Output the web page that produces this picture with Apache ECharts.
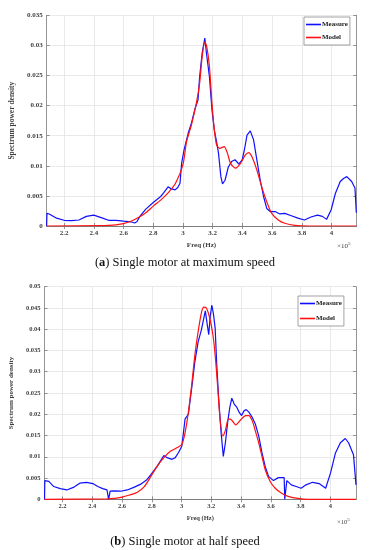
<!DOCTYPE html>
<html>
<head>
<meta charset="utf-8">
<script src="https://cdn.jsdelivr.net/npm/echarts@6/dist/echarts.min.js"></script>
<style>
html,body{margin:0;padding:0;background:#fff;}
#chart{width:370px;height:550px;}
</style>
</head>
<body>
<div id="chart"></div>
<script>
// ---------- Data (frequency in units of 1e5 Hz) ----------
const xTicksA = [2.2, 2.4, 2.6, 2.8, 3, 3.2, 3.4, 3.6, 3.8, 4];
const xTicksB = [2.2, 2.4, 2.6, 2.8, 3, 3.2, 3.4, 3.6, 3.8, 4];

// (a) Single motor at maximum speed
const freqMeasureA = [2.083,2.085,2.1,2.15,2.2,2.25,2.3,2.35,2.4,2.45,2.5,2.55,2.6,2.65,2.675,2.69,2.71,2.75,2.8,2.85,2.87,2.9,2.92,2.947,2.965,2.98,2.991,3.007,3.02,3.035,3.057,3.079,3.101,3.112,3.129,3.147,3.158,3.165,3.178,3.195,3.211,3.226,3.239,3.255,3.266,3.283,3.305,3.327,3.35,3.376,3.398,3.412,3.431,3.453,3.475,3.497,3.52,3.542,3.564,3.586,3.619,3.652,3.685,3.729,3.773,3.817,3.861,3.905,3.938,3.966,3.997,4.025,4.058,4.08,4.102,4.135,4.157,4.166];
const measureA = [0,0.0021,0.002,0.0013,0.00095,0.0009,0.001,0.0016,0.0018,0.0014,0.00095,0.00095,0.0008,0.0007,0.0005,0.0007,0.0016,0.0028,0.0039,0.0049,0.0055,0.0065,0.0062,0.006,0.0064,0.0071,0.0104,0.0126,0.0123,0.0154,0.0171,0.0193,0.0209,0.0248,0.0287,0.0312,0.0287,0.029,0.0248,0.0193,0.0159,0.014,0.0121,0.0082,0.007,0.0076,0.0098,0.0107,0.011,0.0103,0.011,0.0125,0.0151,0.0158,0.0143,0.011,0.0076,0.0049,0.0029,0.0024,0.0024,0.002,0.0021,0.0017,0.0013,0.001,0.0015,0.0018,0.0016,0.0011,0.0027,0.0054,0.0074,0.0079,0.0082,0.0074,0.0063,0.0022];

const freqModelA = [2.083,2.45,2.5,2.55,2.6,2.65,2.7,2.75,2.8,2.85,2.9,2.95,3.0,3.024,3.057,3.09,3.112,3.129,3.147,3.16,3.178,3.195,3.211,3.226,3.248,3.277,3.299,3.32,3.354,3.387,3.42,3.442,3.464,3.497,3.53,3.564,3.597,3.641,3.685,3.751,3.85,4.166];
const modelA = [0,0.00005,0.0001,0.0002,0.0004,0.0008,0.0014,0.0022,0.0033,0.0043,0.0055,0.0071,0.0102,0.014,0.0168,0.0204,0.0237,0.0281,0.0306,0.0298,0.0265,0.0204,0.016,0.0135,0.0129,0.0132,0.0121,0.0104,0.0096,0.0104,0.0118,0.0122,0.0115,0.0093,0.0065,0.004,0.0021,0.001,0.00045,0.0001,0,0];

// (b) Single motor at half speed
const freqMeasureB = [2.079,2.081,2.108,2.141,2.185,2.229,2.273,2.316,2.361,2.404,2.437,2.47,2.499,2.508,2.51,2.518,2.52,2.547,2.591,2.635,2.679,2.723,2.767,2.794,2.837,2.881,2.903,2.936,2.958,2.98,3.002,3.024,3.046,3.068,3.09,3.112,3.134,3.145,3.16,3.173,3.183,3.193,3.204,3.215,3.226,3.237,3.25,3.266,3.281,3.295,3.31,3.325,3.338,3.354,3.371,3.387,3.404,3.42,3.435,3.453,3.475,3.496,3.519,3.541,3.562,3.585,3.618,3.651,3.69,3.694,3.705,3.708,3.738,3.771,3.804,3.837,3.881,3.925,3.969,4.002,4.035,4.068,4.101,4.123,4.156,4.167,4.173];
const measureB = [0,0.0044,0.0042,0.003,0.0025,0.0022,0.0028,0.0038,0.004,0.0037,0.003,0.0025,0.0022,0.0021,0,0,0.0019,0.002,0.0019,0.0022,0.0028,0.0035,0.0046,0.0058,0.0078,0.0103,0.0098,0.0094,0.0098,0.011,0.0125,0.0189,0.02,0.026,0.0324,0.0371,0.0399,0.0395,0.0443,0.0411,0.0387,0.0431,0.0457,0.0435,0.0403,0.0316,0.0236,0.0157,0.0101,0.0133,0.0181,0.0217,0.0238,0.0224,0.0217,0.0205,0.0197,0.0208,0.0211,0.0205,0.0193,0.0177,0.0149,0.0109,0.0078,0.0054,0.0044,0.0051,0.0051,0,0,0.0044,0.0034,0.003,0.0026,0.0034,0.004,0.0037,0.0026,0.0062,0.0109,0.0133,0.0143,0.0133,0.0105,0.0101,0.0034];

const freqModelB = [2.079,2.5,2.55,2.6,2.65,2.7,2.75,2.794,2.837,2.881,2.925,2.969,3.002,3.024,3.046,3.068,3.09,3.112,3.134,3.149,3.167,3.189,3.211,3.228,3.244,3.259,3.277,3.294,3.316,3.338,3.365,3.398,3.431,3.453,3.475,3.496,3.519,3.541,3.562,3.596,3.63,3.673,3.717,3.782,3.85,4.173];
const modelB = [0,0.0001,0.0002,0.0005,0.001,0.0016,0.003,0.0054,0.0078,0.0098,0.0113,0.0121,0.0129,0.0157,0.0205,0.0268,0.034,0.0395,0.0439,0.0452,0.045,0.0427,0.0387,0.0332,0.026,0.0189,0.0149,0.0161,0.0189,0.0186,0.0175,0.0187,0.0197,0.0197,0.0185,0.0161,0.0133,0.0101,0.007,0.0042,0.0026,0.0014,0.0007,0.0002,0,0];

const seriesNames = ['Measure', 'Model'];
const captionA = ['a', ' Single motor at maximum speed'];
const captionB = ['b', ' Single motor at half speed'];
const yLabel = 'Spectrum power density';
const xLabel = 'Freq (Hz)';

// ---------- Build ----------
const zip = (xs, ys) => xs.map((x, i) => [x, ys[i]]);
const SERIF = '"Liberation Serif","DejaVu Serif",serif';
const axisCol = '#7a7a7a';
const labCol = '#404040';
const gridCol = '#e3e3e3';

function xAxes(gi, min, max, ticks, fs, nameGap) {
  return [
    { type: 'value', gridIndex: gi, position: 'bottom', min, max,
      name: xLabel, nameLocation: 'middle', nameGap,
      nameTextStyle: { fontFamily: SERIF, fontSize: fs, fontWeight: 'bold', color: labCol },
      axisLine: { show: true, lineStyle: { color: axisCol, width: 0.8 } },
      axisTick: { show: true, inside: true, length: 3, customValues: ticks, lineStyle: { color: axisCol, width: 0.8 } },
      axisLabel: { customValues: ticks, fontFamily: SERIF, fontSize: fs, fontWeight: 'bold', color: labCol, margin: 4 },
      splitLine: { show: true, lineStyle: { color: gridCol, width: 0.8 } } },
    { type: 'value', gridIndex: gi, position: 'top', min, max,
      axisLine: { show: true, lineStyle: { color: axisCol, width: 0.8 } },
      axisTick: { show: true, inside: true, length: 3, customValues: ticks, lineStyle: { color: axisCol, width: 0.8 } },
      axisLabel: { show: false }, splitLine: { show: false } }
  ];
}
function yAxes(gi, max, fs, nameGap) {
  return [
    { type: 'value', gridIndex: gi, position: 'left', min: 0, max, interval: 0.005,
      name: yLabel, nameLocation: 'middle', nameGap,
      nameTextStyle: { fontFamily: SERIF, fontSize: fs + 0.5, fontWeight: 'bold', color: labCol },
      axisLine: { show: true, lineStyle: { color: axisCol, width: 0.8 } },
      axisTick: { show: true, inside: true, length: 3, lineStyle: { color: axisCol, width: 0.8 } },
      axisLabel: { fontFamily: SERIF, fontSize: fs, fontWeight: 'bold', color: labCol, margin: 4 },
      splitLine: { show: true, lineStyle: { color: gridCol, width: 0.8 } } },
    { type: 'value', gridIndex: gi, position: 'right', min: 0, max, interval: 0.005,
      axisLine: { show: true, lineStyle: { color: axisCol, width: 0.8 } },
      axisTick: { show: true, inside: true, length: 3, lineStyle: { color: axisCol, width: 0.8 } },
      axisLabel: { show: false }, splitLine: { show: false } }
  ];
}
function legend(left, top, fs, gap) {
  return {
    data: seriesNames, orient: 'vertical', left, top,
    backgroundColor: '#fff', borderColor: '#8a8a8a', borderWidth: 0.8,
    padding: [4, 2, 4, 2], itemGap: gap, itemWidth: 15, itemHeight: 1.6, icon: 'rect',
    textStyle: { fontFamily: SERIF, fontSize: fs, fontWeight: 'bold', color: '#222', padding: [0, 0, 0, -4] }
  };
}
const lineSeries = (name, data, xi, yi, color, smooth) => ({
  name, type: 'line', data, xAxisIndex: xi, yAxisIndex: yi, symbol: 'none', smooth,
  lineStyle: { color, width: 1.2 }, itemStyle: { color }, animation: false, z: name === 'Model' ? 3 : 2
});

const option = {
  animation: false,
  grid: [
    { left: 40.7, top: 15.3, right: 13.7, height: 210.7 },
    { left: 38.3, top: 286.7, right: 14, height: 212.6 }
  ],
  xAxis: [...xAxes(0, 2.083, 4.166, xTicksA, 7, 16), ...xAxes(1, 2.079, 4.173, xTicksB, 6.5, 16)],
  yAxis: [...yAxes(0, 0.035, 7, 23), ...yAxes(1, 0.05, 6.5, 22)],
  legend: [legend(304, 17, 7, 6), legend(298, 296, 7, 8)],
  series: [
    lineSeries('Measure', zip(freqMeasureA, measureA), 0, 0, '#1010ff', false),
    lineSeries('Model', zip(freqModelA, modelA), 0, 0, '#ff1010', 0.25),
    lineSeries('Measure', zip(freqMeasureB, measureB), 2, 2, '#1010ff', false),
    lineSeries('Model', zip(freqModelB, modelB), 2, 2, '#ff1010', 0.25)
  ],
  graphic: [
    { type: 'text', left: 337, top: 241, style: { text: '×10{s|5}', font: '7px ' + SERIF, fill: labCol,
        rich: { s: { fontSize: 5, verticalAlign: 'top', padding: [0, 0, 5, 0], fontFamily: SERIF } } } },
    { type: 'text', left: 337, top: 517, style: { text: '×10{s|5}', font: '6.5px ' + SERIF, fill: labCol,
        rich: { s: { fontSize: 5, verticalAlign: 'top', padding: [0, 0, 5, 0], fontFamily: SERIF } } } },
    { type: 'text', left: 'center', top: 256, style: { text: '({b|' + captionA[0] + '})' + captionA[1],
        font: '12.5px ' + SERIF, fill: '#111', rich: { b: { fontWeight: 'bold', fontSize: 12.5, fontFamily: SERIF } } } },
    { type: 'text', left: 'center', top: 535, style: { text: '({b|' + captionB[0] + '})' + captionB[1],
        font: '12.5px ' + SERIF, fill: '#111', rich: { b: { fontWeight: 'bold', fontSize: 12.5, fontFamily: SERIF } } } }
  ]
};
const chart = echarts.init(document.getElementById('chart'), null, { renderer: 'canvas' });
chart.setOption(option);
</script>
</body>
</html>
